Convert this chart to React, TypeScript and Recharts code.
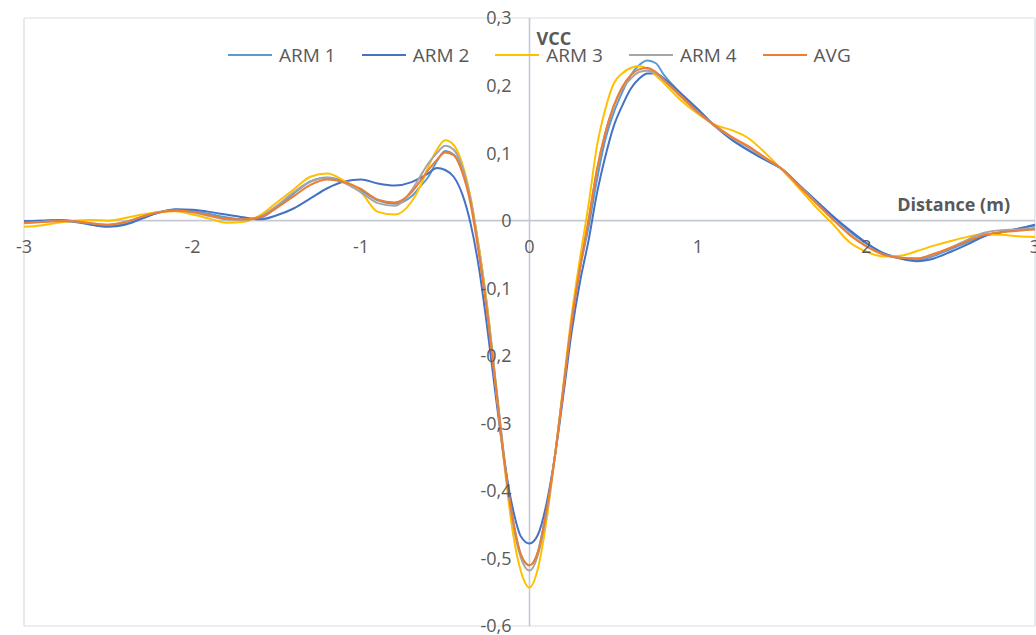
import { CartesianGrid, Line, LineChart, ReferenceDot, ReferenceLine, XAxis, YAxis } from "recharts";

const distance = [
  -3, -2.9, -2.8, -2.7, -2.6, -2.5, -2.4, -2.3, -2.2, -2.1, -2, -1.9, -1.8, -1.7, -1.6, -1.5, -1.4, -1.3, -1.2, -1.1, -1, -0.9, -0.8,
  -0.7, -0.65, -0.6, -0.55, -0.5, -0.45, -0.4, -0.35, -0.3, -0.25, -0.2, -0.15, -0.1, -0.05, 0, 0.05, 0.1, 0.15, 0.2, 0.25, 0.3,
  0.35, 0.4, 0.45, 0.5, 0.55, 0.6, 0.65, 0.7, 0.75, 0.8,
  0.9, 1, 1.1, 1.2, 1.3, 1.4, 1.5, 1.6, 1.7, 1.8, 1.9, 2, 2.1, 2.2, 2.3, 2.4, 2.5, 2.6, 2.7, 2.8, 2.9, 3,
];

const arm1 = [
  -0.001, 0, 0, -0.002, -0.006, -0.008, -0.005, 0.004, 0.012, 0.016, 0.014, 0.01, 0.005, 0.002, 0.004, 0.02, 0.04, 0.058, 0.064, 0.058, 0.045, 0.03, 0.025,
  0.036, 0.05, 0.065, 0.088, 0.103, 0.098, 0.075, 0.03, -0.04, -0.13, -0.24, -0.35, -0.44, -0.495, -0.51, -0.49, -0.43, -0.35, -0.25, -0.15, -0.07,
  -0.01, 0.06, 0.12, 0.16, 0.19, 0.215, 0.23, 0.237, 0.233, 0.215,
  0.188, 0.163, 0.14, 0.12, 0.104, 0.09, 0.076, 0.053, 0.028, 0.005, -0.016, -0.034, -0.048, -0.055, -0.058, -0.052, -0.042, -0.032, -0.022, -0.017, -0.012, -0.007,
];

const arm2 = [
  -0.001, 0, 0.001, -0.001, -0.006, -0.009, -0.006, 0.003, 0.012, 0.017, 0.016, 0.013, 0.009, 0.005, 0.002, 0.008, 0.018, 0.033, 0.048, 0.058, 0.061, 0.055, 0.052,
  0.057, 0.063, 0.07, 0.078, 0.075, 0.065, 0.04, -0.004, -0.07, -0.16, -0.26, -0.355, -0.425, -0.468, -0.478, -0.465, -0.42, -0.35, -0.26, -0.165, -0.09,
  -0.03, 0.04, 0.095, 0.14, 0.17, 0.195, 0.21, 0.218, 0.218, 0.21,
  0.188, 0.165, 0.14, 0.12, 0.104, 0.09, 0.076, 0.053, 0.03, 0.007, -0.014, -0.033, -0.048, -0.056, -0.06, -0.056, -0.046, -0.035, -0.023, -0.017, -0.012, -0.006,
];

const arm3 = [
  -0.009, -0.007, -0.003, 0, 0.001, 0, 0.004, 0.009, 0.013, 0.014, 0.009, 0.003, -0.003, -0.002, 0.008, 0.027, 0.046, 0.065, 0.07, 0.059, 0.042, 0.013, 0.009,
  0.028, 0.05, 0.08, 0.105, 0.119, 0.112, 0.085, 0.035, -0.04, -0.13, -0.245, -0.36, -0.46, -0.52, -0.543, -0.515, -0.445, -0.35, -0.245, -0.14, -0.055,
  0.023, 0.11, 0.165, 0.203, 0.218, 0.226, 0.229, 0.225, 0.215, 0.203,
  0.178, 0.158, 0.142, 0.134, 0.122, 0.1, 0.075, 0.048, 0.02, -0.005, -0.032, -0.046, -0.053, -0.052, -0.045, -0.037, -0.03, -0.024, -0.02, -0.021, -0.023, -0.024,
];

const arm4 = [
  -0.004, -0.002, 0, -0.001, -0.004, -0.006, -0.002, 0.006, 0.013, 0.015, 0.012, 0.007, 0.002, 0.001, 0.006, 0.022, 0.042, 0.058, 0.063, 0.056, 0.042, 0.026, 0.022,
  0.045, 0.065, 0.085, 0.1, 0.111, 0.105, 0.08, 0.032, -0.045, -0.135, -0.245, -0.355, -0.445, -0.5, -0.518, -0.495, -0.435, -0.35, -0.25, -0.15, -0.07,
  0, 0.075, 0.13, 0.17, 0.195, 0.21, 0.22, 0.222, 0.218, 0.207,
  0.183, 0.16, 0.14, 0.123, 0.108, 0.092, 0.076, 0.052, 0.027, 0.002, -0.02, -0.038, -0.05, -0.055, -0.056, -0.05, -0.04, -0.028, -0.018, -0.014, -0.013, -0.011,
];

const avg = [
  -0.003, -0.002, -0.001, -0.001, -0.004, -0.006, -0.002, 0.006, 0.012, 0.015, 0.013, 0.008, 0.003, 0.002, 0.005, 0.019, 0.036, 0.053, 0.061, 0.057, 0.047, 0.031, 0.027,
  0.042, 0.058, 0.075, 0.09, 0.101, 0.097, 0.072, 0.025, -0.05, -0.14, -0.245, -0.355, -0.44, -0.495, -0.51, -0.49, -0.43, -0.35, -0.25, -0.15, -0.07,
  0, 0.075, 0.13, 0.17, 0.198, 0.215, 0.224, 0.226, 0.22, 0.208,
  0.184, 0.161, 0.141, 0.124, 0.11, 0.093, 0.076, 0.051, 0.026, 0.002, -0.021, -0.038, -0.05, -0.055, -0.056, -0.049, -0.04, -0.03, -0.021, -0.017, -0.015, -0.013,
];

const xTicks = [-3, -2, -1, 0, 1, 2, 3];
const yTicks = [-0.6, -0.5, -0.4, -0.3, -0.2, -0.1, 0, 0.1, 0.2, 0.3];

const series = [
  { key: "arm1", name: "ARM 1", color: "#5B9BD5", values: arm1 },
  { key: "arm2", name: "ARM 2", color: "#4472C4", values: arm2 },
  { key: "arm3", name: "ARM 3", color: "#FFC000", values: arm3 },
  { key: "arm4", name: "ARM 4", color: "#A5A5A5", values: arm4 },
  { key: "avg", name: "AVG", color: "#ED7D31", values: avg },
];

const data = distance.map((x, i) => {
  const row: Record<string, number> = { x };
  series.forEach((s) => (row[s.key] = s.values[i]));
  return row;
});

const FONT = "'Open Sans', 'Liberation Sans', sans-serif";
const TEXT = "#595959";

const fmtY = (v: number) => (v === 0 ? "0" : v.toFixed(1).replace(".", ","));

// legend sits inside the plot, like the Excel original
function LegendRow() {
  return (
    <div
      style={{
        position: "absolute",
        top: 44,
        left: 228,
        display: "flex",
        alignItems: "center",
        fontFamily: FONT,
        fontSize: 19,
        color: TEXT,
        lineHeight: "22px",
      }}
    >
      {series.map((s) => (
        <div key={s.key} style={{ display: "flex", alignItems: "center", marginRight: 26 }}>
          <div style={{ width: 44, height: 2, background: s.color, marginRight: 7 }} />
          <span>{s.name}</span>
        </div>
      ))}
    </div>
  );
}

export default function App() {
  return (
    <div style={{ position: "absolute", left: 0, top: 0, width: 1036, height: 635, background: "#fff", overflow: "hidden" }}>
      <LineChart width={1036} height={635} data={data} margin={{ top: 18, right: 1, bottom: 9, left: 24 }} style={{ fontFamily: FONT }}>
        <CartesianGrid stroke="#D9DDE3" strokeWidth={1.2} />
        <XAxis type="number" dataKey="x" domain={[-3, 3]} ticks={xTicks} height={0} tick={false} axisLine={false} tickLine={false} />
        <YAxis type="number" domain={[-0.6, 0.3]} ticks={yTicks} width={0} tick={false} axisLine={false} tickLine={false} allowDataOverflow />
        <ReferenceLine y={0} stroke="#C3CAD4" strokeWidth={1.6} />
        <ReferenceLine x={0} stroke="#C3CAD4" strokeWidth={1.6} />
        {series.map((s) => (
          <Line
            key={s.key}
            type="monotone"
            dataKey={s.key}
            name={s.name}
            stroke={s.color}
            strokeWidth={2}
            dot={false}
            activeDot={false}
            isAnimationActive={false}
          />
        ))}
        {xTicks.map((t) => (
          <ReferenceDot
            key={"xt" + t}
            x={t}
            y={0}
            r={0}
            stroke="none"
            fill="none"
            label={{ value: String(t), position: "bottom", offset: 20, fill: TEXT, fontSize: 18, fontFamily: FONT }}
          />
        ))}
        {yTicks.map((t) => (
          <ReferenceDot
            key={"yt" + t}
            x={0}
            y={t}
            r={0}
            stroke="none"
            fill="none"
            label={{ value: fmtY(t), position: "left", offset: 18, fill: TEXT, fontSize: 18, fontFamily: FONT }}
          />
        ))}
        <ReferenceDot
          x={0}
          y={0.27}
          r={0}
          stroke="none"
          fill="none"
          label={{ value: "VCC", position: "right", offset: 7, fill: TEXT, fontSize: 18, fontWeight: 700, fontFamily: FONT }}
        />
        <ReferenceDot
          x={3}
          y={0.024}
          r={0}
          stroke="none"
          fill="none"
          label={{ value: "Distance (m)", position: "left", offset: 25, fill: TEXT, fontSize: 18, fontWeight: 700, fontFamily: FONT }}
        />
      </LineChart>
      <LegendRow />
    </div>
  );
}
